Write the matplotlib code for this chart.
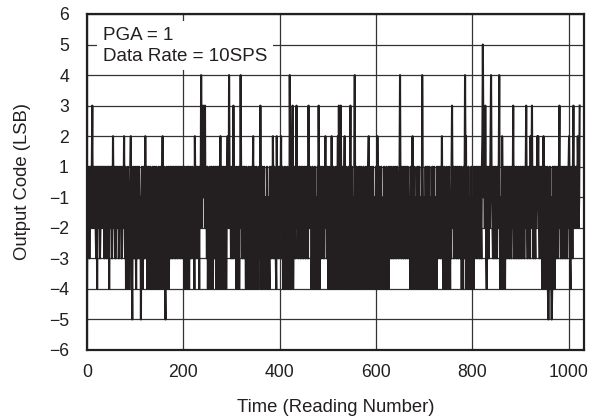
import numpy as np
import matplotlib
matplotlib.use("Agg")
import matplotlib.pyplot as plt

plt.rcParams['font.family'] = ['Liberation Sans', 'DejaVu Sans']

# Output code readings (LSB), 1024 readings, rows of 16
codes = [
    -4, 1, -1, -2, 1, -3, -1, 1, -2, -1, 1, 3, -2, -1, 1, -2,
    -1, 1, -2, -3, 1, -4, -1, 1, -2, -1, 1, -3, -2, 1, -1, -2,
    1, -1, -2, 1, -3, -1, 1, -2, -1, -3, 1, -2, -1, 1, -4, -1,
    1, -2, -1, 1, -3, -2, 2, -1, -2, 1, -1, -3, -2, 1, -1, -2,
    1, -1, -3, -2, 1, -1, -2, 1, -3, -1, -2, 1, -1, 2, -2, -3,
    1, -4, -1, -2, -4, 1, -3, -2, -4, -1, 1, 2, -2, -3, -5, -1,
    1, -2, -3, -1, 1, -2, -4, -1, 1, -3, -2, -1, 1, -2, -3, -1,
    -5, -1, 1, -2, -4, -1, 1, -3, -2, 2, -1, -3, 1, -4, -2, -1,
    1, -4, -2, 1, -3, -4, -1, -2, 1, -4, -3, -1, 1, -4, -2, -3,
    1, -4, -1, -2, -4, 1, -3, -4, -1, 1, -2, -4, -1, 2, -3, -4,
    1, -2, -4, -5, -1, 1, -3, -4, -2, 1, -4, -1, -2, 1, -3, -1,
    1, -2, -3, -1, 1, -2, -1, -3, 1, -2, -1, 1, -3, -2, -1, 1,
    -2, -1, -3, 1, -2, -1, 1, -3, -2, -1, -4, 1, -2, -4, -1, -3,
    1, -4, -2, 1, -4, -1, -2, 1, -3, -1, -2, 1, -1, -3, -2, -4,
    2, -1, -2, 1, -3, -1, 1, -2, -1, -4, 1, -2, -1, 4, 1, -2,
    1, 3, -1, 2, 1, 3, -2, 1, -1, -3, 1, -4, -2, -1, -4, 1,
    -2, -4, -1, 1, -3, -4, -1, 1, -2, -3, 1, -1, -4, -2, 1, -4,
    -1, 1, -4, -2, -1, 2, -3, -4, 1, -1, -4, -2, 1, -3, -4, -1,
    1, -4, -2, 1, 2, -1, -2, 4, 1, -2, -1, -3, 1, -2, -1, -3,
    3, -1, -2, 1, -3, -1, -4, 1, -2, -4, -1, 1, -4, -2, -1, 4,
    1, -2, -1, -3, 1, -2, -1, 1, -3, -2, -4, 1, -1, -4, -2, -3,
    1, -4, -1, -2, -4, 1, -3, -4, -1, 2, -2, -4, 1, -3, -4, -1,
    1, -4, -2, -1, -4, 1, -3, -2, 3, -1, -4, -2, 1, -4, -3, -1,
    1, -4, -2, -1, -3, -4, 1, -2, -4, -1, -3, -4, 1, -2, -1, -3,
    1, -2, 2, -1, -3, 1, -2, -1, -3, -4, 2, -1, -2, 1, -3, -1,
    1, -2, -1, 2, -3, -1, 1, -4, -2, -1, -4, 1, -3, -4, -1, -2,
    1, -4, -2, -1, -4, 4, 1, -2, -4, -1, 1, 3, -4, -2, -1, 1,
    -2, -3, -1, 3, -2, 1, -1, -3, -2, 1, -1, -2, -3, 1, -1, -2,
    1, -3, -1, -2, 1, -1, -3, -2, 1, -1, -2, -3, 3, -1, -2, 1,
    -2, -1, -4, -3, 1, -4, -2, -1, -4, 1, -2, -4, -1, -3, -4, 1,
    -4, 3, -1, -4, -2, 1, -1, -3, -2, 1, -1, -2, -3, 1, -1, 2,
    -2, -1, -3, 1, -2, -4, -1, 1, -4, -2, -1, -4, 2, -3, -4, -1,
    1, -4, -2, -1, -4, 1, -3, -4, -1, 2, -4, 3, -2, -4, -1, 3,
    -1, -4, -2, 1, -4, -3, -1, 2, -4, -2, 1, -4, -1, -3, -4, 1,
    -2, -4, -1, 3, -4, -2, 1, -4, -1, -3, -4, 1, 4, -2, -4, -1,
    1, -4, -2, -3, -4, 1, -1, -4, -2, 1, -3, -4, -1, -2, 1, -4,
    -1, -2, -4, 1, -3, -4, -1, -2, 1, 2, -4, -1, -3, -4, 1, -2,
    -4, -1, 1, -3, -4, -2, -1, -4, 1, -2, -4, 2, -1, -3, -4, 1,
    -2, -4, -1, 1, -3, -4, -2, -1, -4, 1, -2, -3, -4, -1, 1, -4,
    -2, -1, -4, 1, -2, -3, -1, 1, -2, -3, -1, -2, 1, -3, -1, -2,
    1, -1, -3, -2, 1, -1, -2, -3, -1, 1, 4, -1, -2, -3, 1, -1,
    -2, -3, 1, -1, -2, -3, 1, -2, -1, -3, 1, -1, -2, -3, -1, -4,
    1, -2, -4, -1, 2, -3, -4, -1, 1, -2, -4, -1, -3, -4, 1, -2,
    -4, -1, 1, -3, -4, -2, -1, -4, 4, 1, -2, -4, -1, -3, -4, 1,
    -2, -4, -1, 1, -3, -4, -2, 1, -4, -1, -2, -3, -4, 1, -1, -4,
    -2, 1, -3, -4, -1, -2, -4, 1, -1, -3, -2, 1, -1, -2, -3, 1,
    -1, 2, -2, -3, -4, -1, 1, -4, -2, -1, -4, 1, -3, -2, -4, -1,
    1, -2, -4, -1, -3, 1, 3, -1, -2, 1, -3, -1, -2, 1, -1, -3,
    -2, 1, -1, -3, -2, 1, -1, -2, -3, 1, -4, -1, -2, -4, 1, -3,
    -1, 4, 1, 2, -4, -2, -1, -4, 1, -3, -4, -1, -2, -4, 1, -3,
    -4, -1, -2, -4, 1, -3, -1, -2, 1, -1, -3, -2, 1, -1, -2, -3,
    1, -1, -2, -3, 1, 2, 5, 2, -1, 1, -2, 3, -1, -3, -4, 1,
    -2, -1, -3, 1, -2, -1, 2, 4, 1, -1, -2, -3, 1, -1, -2, -3,
    1, -1, -2, -3, 1, -1, -2, 1, 4, -2, -4, -1, -3, -4, 2, -1,
    -4, -2, 1, -3, -4, -1, 1, -2, -3, -1, 1, -2, -1, -3, 1, -2,
    -1, -3, 1, -2, -1, 3, -2, -3, 1, -1, -2, -3, 1, -1, -2, -3,
    1, -1, -2, -3, 1, -2, -1, -3, 1, -1, -2, 1, -3, -1, -2, 1,
    3, -1, -2, -3, 1, -1, -2, 1, -3, 2, -1, 1, 3, -2, -1, -3,
    1, -1, -2, -3, 1, -2, -1, 2, 1, 2, -1, -2, -3, 1, -1, -2,
    1, -4, -2, -1, 2, -4, -1, -3, 1, -4, -2, -3, 1, -4, -5, -4,
    -3, 1, -4, -1, -4, -5, -4, 1, -4, -3, 1, -4, 1, -2, -3, -1,
    1, -2, -3, -1, 1, 3, -2, -1, -3, 1, -2, -1, -3, 1, -1, -2,
    1, -3, -1, -2, 1, -3, -1, -2, 1, 2, -1, -3, -4, 1, -2, -1,
    -3, 1, 3, -1, -2, 1, -2, -1, 1, -2, -1, 2, 1, -2, -1, 3,
]
readings = np.arange(len(codes))

y_ticks = [6, 5, 4, 3, 2, 1, -1, -2, -3, -4, -5, -6]
y_tick_labels = ['6', '5', '4', '3', '2', '1', '\u22121', '\u22122', '\u22123', '\u22124', '\u22125', '\u22126']
x_ticks = [0, 200, 400, 600, 800, 1000]


def fwd(v):
    v = np.asarray(v, dtype=float)
    return np.where(v >= 1, v, np.where(v <= -1, v + 1, (v + 1) / 2))


def inv(p):
    p = np.asarray(p, dtype=float)
    return np.where(p >= 1, p, np.where(p <= 0, p - 1, 2 * p - 1))


fig = plt.figure(figsize=(5.92, 4.18), dpi=100)
ax = fig.add_axes([87 / 592, 1 - 350 / 418, (584 - 87) / 592, (350 - 14) / 418])
ax.set_yscale('function', functions=(fwd, inv))

ax.plot(readings, codes, color='#231f20', lw=1.5, zorder=3)

ax.set_xlim(0, 1032)
ax.set_ylim(-6, 6)
ax.set_yticks(y_ticks)
ax.set_yticklabels(y_tick_labels)
ax.set_xticks(x_ticks)
ax.yaxis.set_minor_locator(matplotlib.ticker.NullLocator())
ax.tick_params(axis='both', length=0, labelsize=12.7, colors='#231f20')
ax.tick_params(axis='y', pad=13)
ax.tick_params(axis='x', pad=10)
ax.grid(True, color='#333333', lw=0.9, zorder=1)
ax.set_axisbelow(True)
for s in ax.spines.values():
    s.set_linewidth(1.6)
    s.set_color('#231f20')

ax.set_xlabel('Time (Reading Number)', fontsize=13.3, color='#231f20', labelpad=13)
ax.set_ylabel('Output Code (LSB)', fontsize=13.3, color='#231f20', labelpad=13)

ax.text(0.032, 0.962, 'PGA = 1\nData Rate = 10SPS', transform=ax.transAxes,
        fontsize=13.5, color='#231f20', va='top', ha='left', linespacing=1.3,
        zorder=5, bbox=dict(facecolor='white', edgecolor='none', boxstyle='square,pad=0.3'))

fig.savefig('out.png', dpi=100)
